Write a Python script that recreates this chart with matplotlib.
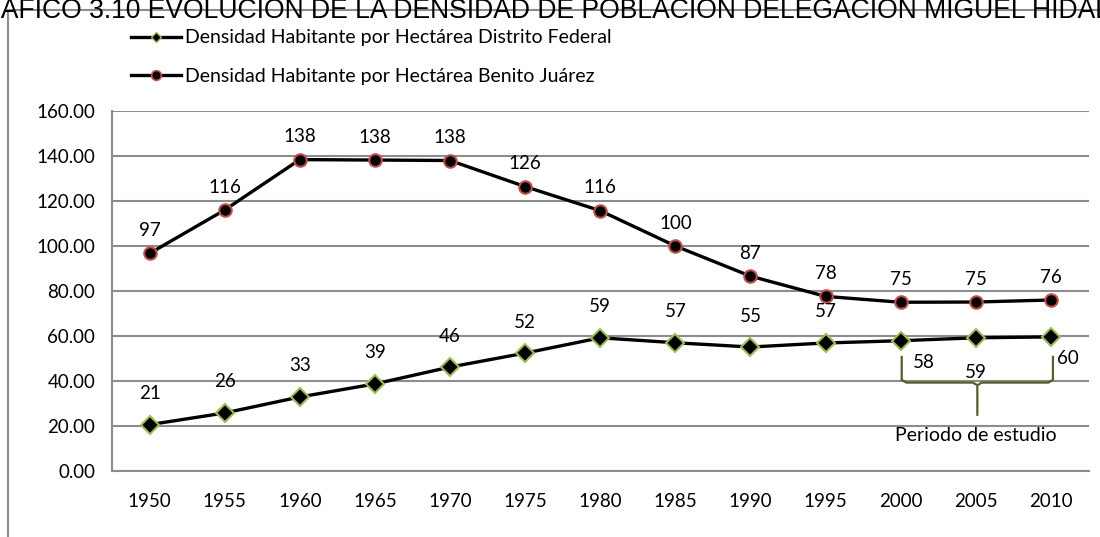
import matplotlib
matplotlib.use("Agg")
import matplotlib.pyplot as plt
from matplotlib.lines import Line2D
from matplotlib.patches import Rectangle
import numpy as np

# datos
anios = ["1950", "1955", "1960", "1965", "1970", "1975", "1980",
         "1985", "1990", "1995", "2000", "2005", "2010"]
densidad_df = [20.6, 25.8, 32.9, 38.7, 46.2, 52.4, 59.2, 57.0, 55.1, 56.9, 57.9, 59.2, 59.6]
densidad_bj = [96.7, 116.0, 138.4, 138.2, 138.0, 126.4, 115.7, 100.0, 86.6, 77.6, 75.0, 75.1, 76.0]
nombre_df = "Densidad Habitante por Hectárea Distrito Federal"
nombre_bj = "Densidad Habitante por Hectárea Benito Juárez"
titulo = "GRÁFICO 3.10 EVOLUCIÓN DE LA DENSIDAD DE POBLACIÓN DELEGACIÓN MIGUEL HIDALGO"
yticks = [0, 20, 40, 60, 80, 100, 120, 140, 160]

plt.rcParams['font.family'] = ['Lato', 'DejaVu Sans']

W, H = 1100, 537
fig = plt.figure(figsize=(11, 5.37), dpi=100)

# marco exterior y titulo recortado
fig.patches.append(Rectangle((8 / W, -0.1), 1.2, 1 - 10 / H + 0.1, transform=fig.transFigure,
                             fill=False, edgecolor="#8c8c8c", linewidth=1.5))
fig.text(-39 / W, 1 - 18 / H, titulo, family="Liberation Sans", fontsize=19.1,
         va="baseline", ha="left", color="black")

ax = fig.add_axes([112 / W, 1 - 471 / H, (1088.5 - 112) / W, (471 - 111) / H])
x = np.arange(len(anios))

gris = "#8c8c8c"
ax.set_ylim(0, 160)
ax.set_xlim(-0.5, len(anios) - 0.5)
ax.set_yticks(yticks)
ax.set_yticklabels([f"{v:.2f}" for v in yticks])
ax.set_xticks(x)
ax.set_xticklabels(anios)
ax.tick_params(length=0, labelsize=13.5, pad=12)
ax.tick_params(axis="x", pad=16)
ax.grid(axis="y", color=gris, linewidth=1.5)
ax.set_axisbelow(True)
for s in ["top", "right"]:
    ax.spines[s].set_visible(False)
for s in ["left", "bottom"]:
    ax.spines[s].set_color(gris)
    ax.spines[s].set_linewidth(1.5)

ax.plot(x, densidad_bj, color="black", linewidth=2.4, marker="o", markersize=9,
        markerfacecolor="black", markeredgecolor="#c0504d", markeredgewidth=1.5, zorder=3)
ax.plot(x, densidad_df, color="black", linewidth=2.4, marker="D", markersize=9,
        markerfacecolor="black", markeredgecolor="#9bbb59", markeredgewidth=1.5, zorder=3)

for i, v in enumerate(densidad_bj):
    ax.annotate(f"{v:.0f}", (x[i], v), xytext=(0, 23), textcoords="offset pixels",
                ha="center", va="center", fontsize=13.5)

offs_df = [(0, 31)] * 10 + [(23, -22), (0, -35), (17, -22)]
for i, v in enumerate(densidad_df):
    dx, dy = offs_df[i]
    ax.annotate(f"{v:.0f}", (x[i], v), xytext=(dx, dy), textcoords="offset pixels",
                ha="center", va="center", fontsize=13.5)

# llave del periodo de estudio
verde = "#4f6228"
xl, xr = 10 + 1 / 75, 12 + 2 / 75
xm = (xl + xr) / 2
ytop, ymid, ybot = 50.7, 39.3, 25
r = 0.06
ax.plot([xl, xl, xl + r, xm - r, xm, xm], [ytop, ymid + 1.2, ymid, ymid, ymid - 1.2, ybot],
        color=verde, linewidth=1.6, solid_joinstyle="round")
ax.plot([xr, xr, xr - r, xm + r, xm], [ytop, ymid + 1.2, ymid, ymid, ymid - 1.2],
        color=verde, linewidth=1.6, solid_joinstyle="round")
ax.text(xm - 0.02, 15.6, "Periodo de estudio", ha="center", va="center", fontsize=14)

# leyenda
h_df = Line2D([], [], color="black", linewidth=2.4, marker="D", markersize=5,
              markerfacecolor="black", markeredgecolor="#9bbb59", markeredgewidth=1)
h_bj = Line2D([], [], color="black", linewidth=2.4, marker="o", markersize=7,
              markerfacecolor="black", markeredgecolor="#c0504d", markeredgewidth=1.2)
fig.legend([h_df, h_bj], [nombre_df, nombre_bj], loc="upper left",
           bbox_to_anchor=(113 / W, 1 - 12 / H), frameon=False, fontsize=14,
           handlelength=2.6, handletextpad=0.2, labelspacing=1.1)

fig.savefig("out.png", dpi=100)
